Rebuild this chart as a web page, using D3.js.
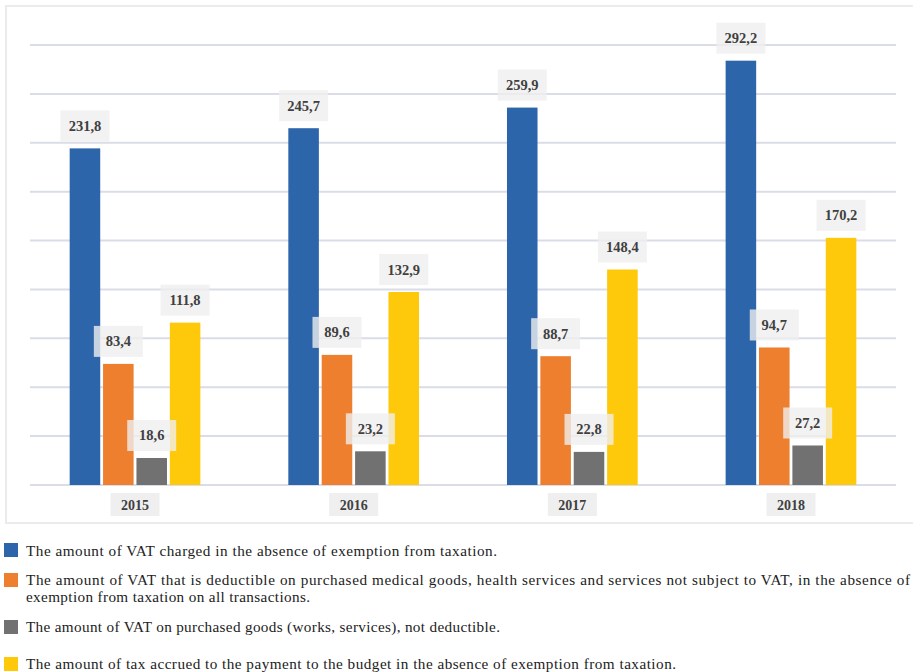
<!DOCTYPE html>
<html><head><meta charset="utf-8">
<script src="https://cdn.jsdelivr.net/npm/d3@7"></script>
<style>html,body{margin:0;padding:0;background:#fff;}svg{display:block;} text{font-family:"Liberation Serif","DejaVu Serif","Times New Roman",serif;}</style>
</head><body>
<svg id="chart" width="913" height="672"></svg>
<script>
const years = ["2015", "2016", "2017", "2018"];
const seriesNames = [
  "The amount of VAT charged in the absence of exemption from taxation.",
  "The amount of VAT that is deductible on purchased medical goods, health services and services not subject to VAT, in the absence of exemption from taxation on all transactions.",
  "The amount of VAT on purchased goods (works, services), not deductible.",
  "The amount of tax accrued to the payment to the budget in the absence of exemption from taxation."
];
const vatCharged = [231.8, 245.7, 259.9, 292.2];
const vatDeductible = [83.4, 89.6, 88.7, 94.7];
const vatNotDeductible = [18.6, 23.2, 22.8, 27.2];
const taxToBudget = [111.8, 132.9, 148.4, 170.2];
const seriesValues = [vatCharged, vatDeductible, vatNotDeductible, taxToBudget];
const colors = ["#2d65ab", "#ed7f2e", "#717171", "#fec90b"];
const yMax = 303;
const gridCount = 9;

const svg = d3.select("#chart");
const fmt = v => d3.format(".1f")(v).replace(".", ",");

// frame
svg.append("rect").attr("x", 6).attr("y", 6).attr("width", 930).attr("height", 517)
  .attr("fill", "none").attr("stroke", "#ebebeb").attr("stroke-width", 2);

const x0 = d3.scaleBand().domain(years).range([25.7, 900.3]);
const x1 = d3.scaleBand().domain(d3.range(4)).range([0, 130.7]).paddingInner(0.085);
const y = d3.scaleLinear().domain([0, yMax]).range([485, 45]);

// gridlines
const gridVals = d3.range(0, gridCount + 1).map(i => i * yMax / gridCount);
svg.append("g").selectAll("line").data(gridVals).join("line")
  .attr("x1", 30).attr("x2", 896)
  .attr("y1", d => y(d)).attr("y2", d => y(d))
  .attr("stroke", "#dadde7").attr("stroke-width", 2);

const data = [];
years.forEach((yr, i) => seriesValues.forEach((s, j) => data.push({yr, j, v: s[i]})));
const gx = d => x0(d.yr) + x0.bandwidth() / 2 - 130.7 / 2 + x1(d.j);

svg.append("g").selectAll("rect").data(data).join("rect")
  .attr("x", gx).attr("width", x1.bandwidth())
  .attr("y", d => y(d.v)).attr("height", d => y(0) - y(d.v))
  .attr("fill", d => colors[d.j]);

// value labels
const lg = svg.append("g").selectAll("g").data(data).join("g")
  .attr("transform", d => `translate(${gx(d) + x1.bandwidth() / 2},${y(d.v) - 7})`);
lg.append("rect").attr("x", -24.5).attr("y", -31).attr("width", 49).attr("height", 31)
  .attr("fill", "#efefef").attr("fill-opacity", 0.8);
lg.append("text").attr("y", -10.5).attr("text-anchor", "middle")
  .attr("font-weight", "bold")
  .attr("font-size", 14.5).attr("fill", "#404040").text(d => fmt(d.v));

// year labels
const yl = svg.append("g").selectAll("g").data(years).join("g")
  .attr("transform", d => `translate(${x0(d) + x0.bandwidth() / 2},493)`);
yl.append("rect").attr("x", -24.5).attr("y", 0).attr("width", 49).attr("height", 23).attr("fill", "#efefef");
yl.append("text").attr("y", 17).attr("text-anchor", "middle")
  .attr("font-weight", "bold")
  .attr("font-size", 14).attr("fill", "#404040").text(d => d);

// legend
const legendLayout = [
  {sq: 543, lines: [{t: seriesNames[0], b: 556, w: 471}]},
  {sq: 573, lines: [
    {t: "The amount of VAT that is deductible on purchased medical goods, health services and services not subject to VAT, in the absence of", b: 585, w: 884},
    {t: "exemption from taxation on all transactions.", b: 602, w: 284}]},
  {sq: 620, lines: [{t: seriesNames[2], b: 632, w: 474}]},
  {sq: 657, lines: [{t: seriesNames[3], b: 669, w: 650}]}
];
const leg = svg.append("g");
legendLayout.forEach((it, i) => {
  leg.append("rect").attr("x", 4).attr("y", it.sq).attr("width", 14).attr("height", 14).attr("fill", colors[i]);
  it.lines.forEach(l => {
    leg.append("text").attr("x", 26).attr("y", l.b)
      .attr("font-size", 15.2)
      .attr("fill", "#222").text(l.t)
      .attr("textLength", l.w).attr("lengthAdjust", "spacing");
  });
});
</script>
</body></html>
